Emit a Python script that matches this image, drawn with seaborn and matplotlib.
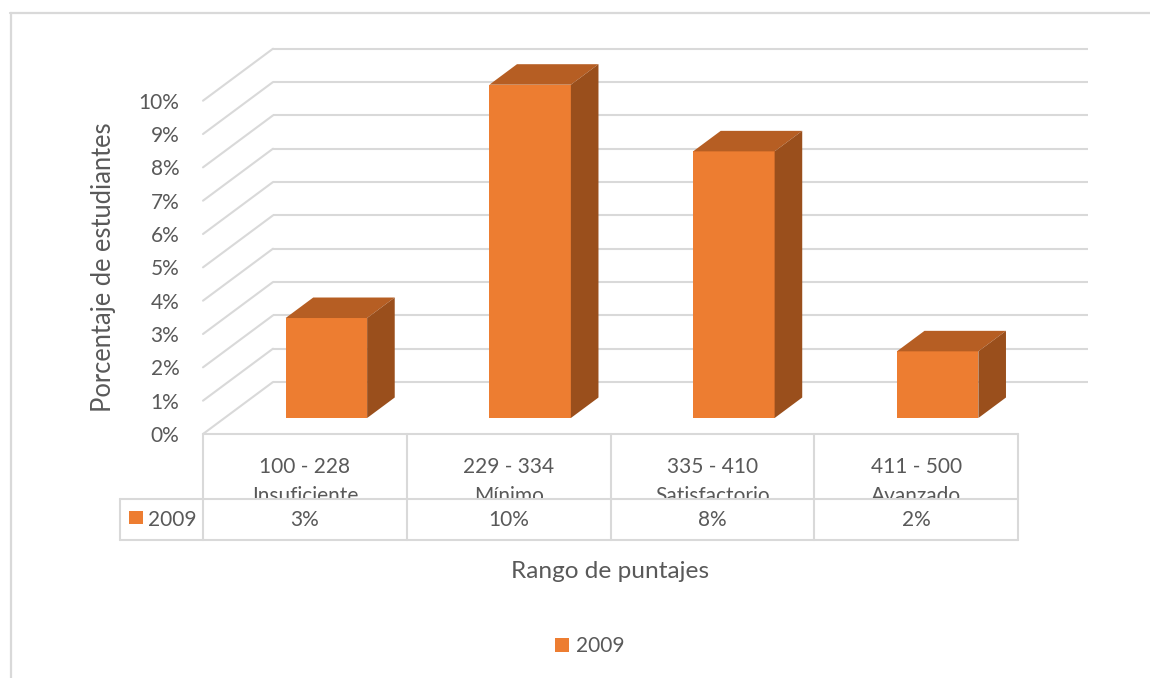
import numpy as np
import pandas as pd
import seaborn as sns
import matplotlib
matplotlib.use("Agg")
import matplotlib.pyplot as plt
from matplotlib.transforms import (ScaledTranslation, IdentityTransform, Bbox,
                                   blended_transform_factory)
from matplotlib.patches import Polygon, Rectangle, Patch
from matplotlib.lines import Line2D

# ---- data -------------------------------------------------------------
score_ranges = ["100 - 228", "229 - 334", "335 - 410", "411 - 500"]
levels = ["Insuficiente", "Mínimo", "Satisfactorio", "Avanzado"]
pct_2009 = [3, 10, 8, 2]
series_name = "2009"
y_ticks = list(range(0, 11))
y_ticklabels = [f"{v}%" for v in y_ticks]

# ---- style ------------------------------------------------------------
W, H, DPI = 1150, 678, 100
FRONT = "#ED7D31"
TOP = "#B65E23"
SIDE = "#9A4F1C"
GRID = "#D9D9D9"
TEXT = "#595959"
FS = 15

sns.set_theme(style="white")
plt.rcParams["font.family"] = ["Lato", "DejaVu Sans"]
plt.rcParams["text.color"] = TEXT

fig = plt.figure(figsize=(W / DPI, H / DPI), dpi=DPI)
fig.patch.set_facecolor("white")

# axes = front edge of the floor (the table's top border), 0..10 %
ax = fig.add_axes([203 / W, (H - 434) / H, 815 / W, 333.3 / H])
ax.set_facecolor("none")

df = pd.DataFrame({"level": levels, "pct": pct_2009})
sns.barplot(data=df, x="level", y="pct", color=FRONT, saturation=1,
            width=0.4, linewidth=0, errorbar=None, ax=ax, zorder=3)
ax.set_xlim(-0.5, 3.5)
ax.set_ylim(0, 10)


def shifted(dx, dy):
    """Data transform pushed back into the 3-D depth by (dx, dy) pixels."""
    return ax.transData + ScaledTranslation(dx / DPI, dy / DPI, fig.dpi_scale_trans)


BAR_SHIFT = (21.5, 16.0)     # bar front face, relative to floor front edge
BAR_DEPTH = (27.6, 20.5)     # thickness of each column
WALL = (70.0, 52.0)          # back wall, relative to floor front edge

tr_bar = shifted(*BAR_SHIFT)
tr_bar_back = shifted(BAR_SHIFT[0] + BAR_DEPTH[0], BAR_SHIFT[1] + BAR_DEPTH[1])
tr_wall = shifted(*WALL)
ident = IdentityTransform()

# back-wall gridlines
ax.hlines(y_ticks, -0.5, 3.5, transform=tr_wall, colors=GRID, lw=1.5,
          clip_on=False, zorder=1)
# side-wall diagonals
for v in y_ticks:
    p0 = ax.transData.transform((-0.5, v))
    p1 = tr_wall.transform((-0.5, v))
    ax.add_line(Line2D([p0[0], p1[0]], [p0[1], p1[1]], transform=ident,
                       color=GRID, lw=1.5, clip_on=False, zorder=1))

# columns: front faces from seaborn, then top and side faces
bars = list(ax.patches)
for p in bars:
    p.set_transform(tr_bar)
    p.set_clip_on(False)
    x0, w, h = p.get_x(), p.get_width(), p.get_height()
    top = np.vstack([tr_bar.transform([(x0, h), (x0 + w, h)]),
                     tr_bar_back.transform([(x0 + w, h), (x0, h)])])
    side = np.vstack([tr_bar.transform([(x0 + w, 0), (x0 + w, h)]),
                      tr_bar_back.transform([(x0 + w, h), (x0 + w, 0)])])
    ax.add_patch(Polygon(top, closed=True, transform=ident, facecolor=TOP,
                         edgecolor="none", clip_on=False, zorder=4))
    ax.add_patch(Polygon(side, closed=True, transform=ident, facecolor=SIDE,
                         edgecolor="none", clip_on=False, zorder=4))

# axes decoration
for s in ax.spines.values():
    s.set_visible(False)
ax.set_xticks([])
ax.set_yticks(y_ticks)
ax.set_yticklabels(y_ticklabels)
ax.tick_params(axis="y", length=0, pad=17, labelsize=FS, labelcolor=TEXT)
ax.set_ylabel("Porcentaje de estudiantes", fontsize=18.4, color=TEXT)
ax.yaxis.set_label_coords(-0.1066, 0.5)
ax.set_xlabel("Rango de puntajes", fontsize=17.6, color=TEXT)
ax.xaxis.set_label_coords(0.5, -0.382)

# ---- data table ---------------------------------------------------------
TABLE_TOP, ROW, TABLE_BOTTOM, KEY_LEFT = 434, 499, 540, 120
col_x = [ax.transData.transform((b, 0))[0] for b in np.arange(-0.5, 4, 1.0)]


def hline_px(x0, x1, y):
    fig.add_artist(Line2D([x0, x1], [H - y, H - y], transform=ident,
                          color=GRID, lw=1.5, zorder=2))


def vline_px(x, y0, y1):
    fig.add_artist(Line2D([x, x], [H - y0, H - y1], transform=ident,
                          color=GRID, lw=1.5, zorder=2))


hline_px(col_x[0], col_x[-1], TABLE_TOP)
hline_px(KEY_LEFT, col_x[-1], ROW)
hline_px(KEY_LEFT, col_x[-1], TABLE_BOTTOM)
for x in col_x:
    vline_px(x, TABLE_TOP, TABLE_BOTTOM)
vline_px(KEY_LEFT, ROW, TABLE_BOTTOM)

blend = blended_transform_factory(ax.transData, ident)
header_clip = Bbox.from_extents(col_x[0], H - ROW + 1, col_x[-1], H - TABLE_TOP)
for i, (rng, lvl, v) in enumerate(zip(score_ranges, levels, pct_2009)):
    fig.text(i, H - 473, rng, transform=blend, ha="center", va="baseline",
             fontsize=FS, color=TEXT)
    t = fig.text(i, H - 501.5, lvl, transform=blend, ha="center",
                 va="baseline", fontsize=FS, color=TEXT)
    t.set_clip_box(header_clip)
    t.set_clip_on(True)
    fig.text(i, H - 526.5, f"{v}%", transform=blend, ha="center",
             va="baseline", fontsize=FS, color=TEXT)

# legend key inside the table
fig.add_artist(Rectangle((129, H - 524), 14, 13, transform=ident,
                         facecolor=FRONT, edgecolor="none"))
fig.text(148, H - 526.5, series_name, transform=ident, ha="left",
         va="baseline", fontsize=FS, color=TEXT)

# ---- legend -------------------------------------------------------------
fig.legend(handles=[Patch(facecolor=FRONT, edgecolor="none", label=series_name)],
           loc="center", bbox_to_anchor=(590 / W, 1 - 646 / H), frameon=False,
           handlelength=0.68, handleheight=0.68, handletextpad=0.35,
           fontsize=FS, labelcolor=TEXT)

# chart area border (top and left edges)
fig.add_artist(Line2D([10, W], [H - 13, H - 13], transform=ident, color=GRID, lw=1.6))
fig.add_artist(Line2D([10.5, 10.5], [H - 13, 0], transform=ident, color=GRID, lw=1.6))

fig.savefig("out.png", dpi=DPI)
